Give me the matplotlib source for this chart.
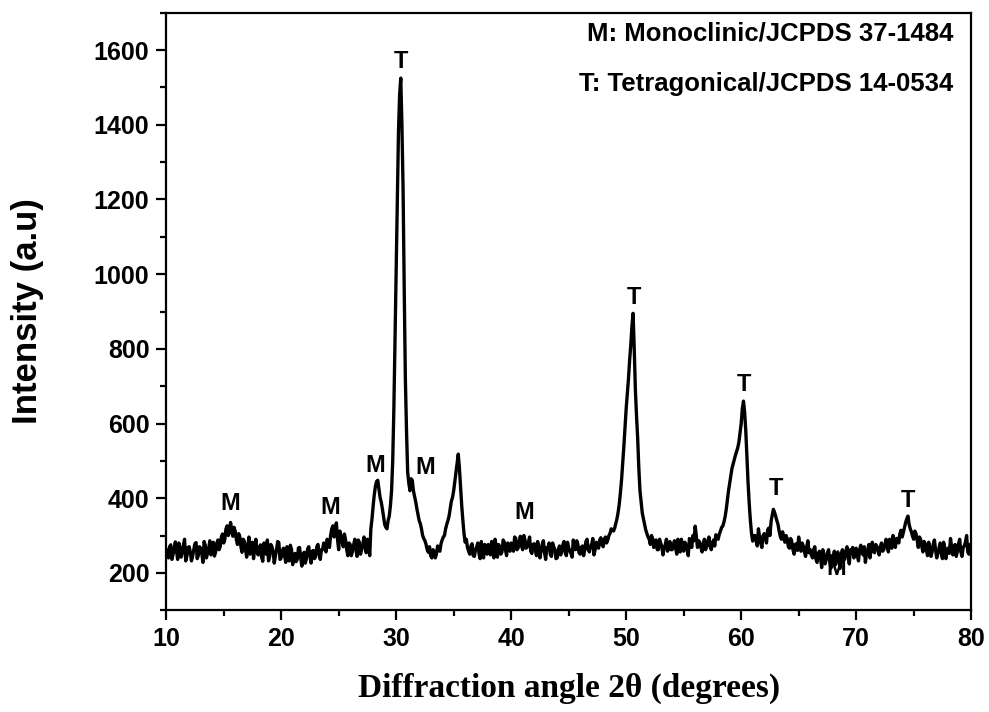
import numpy as np
import matplotlib
matplotlib.use("Agg")
import matplotlib.pyplot as plt

# XRD scan: main pass at 10.0, 10.2, ... 80.0
two_theta = np.linspace(10, 80, 351)
intensity = [
    262, 240, 275, 250, 283, 236, 268, 255, 290, 244,   # 10
    270, 232, 262, 281, 247, 266, 228, 274, 252, 286,   # 12
    260, 245, 279, 262, 296, 280, 318, 300, 335, 298,   # 14
    312, 276, 298, 255, 284, 242, 296, 260, 238, 290,   # 16
    248, 275, 231, 262, 288, 244, 270, 226, 262, 281,   # 18
    240, 266, 228, 258, 274, 222, 252, 236, 268, 218,   # 20
    255, 238, 270, 226, 260, 244, 276, 236, 262, 272,   # 22
    290, 268, 318, 296, 334, 262, 300, 270, 288, 246,   # 24
    276, 258, 290, 244, 282, 262, 296, 254, 274, 318,   # 26
    380, 432, 448, 402, 372, 330, 318, 352, 420, 640,   # 28
    1010, 1380, 1525, 1230, 720, 470, 420, 448, 405, 372,  # 30
    340, 318, 292, 276, 255, 246, 262, 240, 272, 258,   # 32
    288, 300, 330, 352, 392, 420, 468, 518, 430, 340,   # 34
    282, 268, 250, 278, 244, 270, 252, 284, 240, 266,   # 36
    276, 248, 262, 290, 242, 270, 256, 282, 246, 268,   # 38
    280, 258, 292, 266, 298, 262, 288, 270, 296, 252,   # 40
    278, 246, 270, 258, 286, 236, 266, 250, 280, 262,   # 42
    240, 272, 258, 284, 246, 268, 252, 288, 262, 276,   # 44
    250, 272, 262, 290, 256, 276, 248, 282, 266, 294,   # 46
    270, 296, 288, 306, 315, 320, 345, 385, 450, 540,   # 48
    640, 720, 810, 895, 690, 560, 420, 360, 330, 305,   # 50
    290, 300, 268, 288, 262, 280, 248, 276, 258, 284,   # 52
    262, 286, 250, 272, 290, 258, 276, 246, 282, 300,   # 54
    325, 268, 282, 256, 290, 270, 296, 262, 288, 302,   # 56
    290, 312, 325, 350, 395, 440, 480, 505, 525, 550,   # 58
    600, 660, 580, 440, 340, 285, 300, 272, 295, 268,   # 60
    305, 280, 320, 338, 370, 352, 330, 298, 310, 282,   # 62
    292, 266, 284, 250, 278, 296, 258, 272, 244, 286,   # 64
    262, 240, 270, 228, 258, 214, 248, 236, 262, 212,   # 66
    240, 222, 256, 212, 262, 236, 270, 224, 252, 240,   # 68
    266, 232, 274, 248, 228, 262, 240, 282, 254, 270,   # 70
    248, 280, 262, 290, 256, 276, 300, 268, 292, 305,   # 72
    296, 322, 345, 330, 310, 290, 305, 268, 290, 256,   # 74
    278, 246, 270, 256, 288, 240, 266, 252, 282, 238,   # 76
    266, 292, 248, 276, 258, 290, 244, 272, 300, 250,   # 78
    268,
]

# in-between points at 10.1, 10.3, ... 79.9
two_theta_mid = np.linspace(10.1, 79.9, 350)
intensity_mid = [
    248, 270, 236, 266, 258, 280, 242, 274, 232, 268,   # 10.1
    256, 244, 278, 238, 270, 252, 284, 240, 266, 248,   # 12.1
    282, 256, 288, 270, 304, 290, 326, 308, 316, 322,   # 14.1
    290, 305, 270, 290, 262, 272, 250, 282, 268, 256,   # 16.1
    266, 242, 280, 250, 232, 276, 258, 246, 284, 236,   # 18.1
    258, 246, 270, 232, 262, 244, 230, 266, 240, 250,   # 20.1
    226, 264, 246, 258, 238, 270, 250, 262, 280, 256,   # 22.1
    274, 300, 326, 310, 290, 312, 284, 304, 262, 280,   # 24.1
    246, 274, 262, 288, 250, 276, 268, 290, 246, 345,   # 26.1
    410, 445, 425, 390, 350, 322, 340, 380, 500, 820,   # 28.1
    1200, 1480, 1400, 960, 580, 440, 452, 420, 390, 356,  # 30.1
    332, 300, 286, 262, 270, 240, 258, 250, 262, 278,   # 32.1
    296, 318, 340, 372, 402, 445, 495, 480, 380, 305,   # 34.1
    290, 258, 272, 246, 262, 280, 238, 262, 276, 250,   # 36.1
    262, 284, 240, 268, 276, 250, 288, 262, 280, 258,   # 38.1
    270, 296, 262, 284, 272, 300, 266, 282, 258, 276,   # 40.1
    262, 284, 240, 276, 254, 268, 280, 244, 270, 238,   # 42.1
    262, 248, 276, 254, 282, 258, 242, 270, 286, 254,   # 44.1
    268, 246, 284, 262, 270, 292, 262, 270, 288, 276,   # 46.1
    290, 280, 300, 318, 312, 332, 362, 415, 495, 590,   # 48.1
    680, 770, 860, 800, 620, 480, 390, 345, 315, 296,   # 50.1
    276, 292, 282, 262, 290, 270, 266, 290, 272, 262,   # 52.1
    276, 266, 290, 256, 270, 282, 262, 292, 268, 286,   # 54.1
    298, 286, 268, 276, 262, 286, 272, 280, 272, 296,   # 56.1
    304, 322, 336, 370, 420, 460, 492, 515, 535, 575,   # 58.1
    640, 630, 510, 385, 305, 300, 285, 318, 280, 300,   # 60.1
    296, 315, 300, 355, 362, 340, 312, 290, 296, 300,   # 62.1
    270, 292, 262, 276, 260, 270, 280, 256, 270, 254,   # 64.1
    248, 262, 236, 250, 240, 262, 224, 254, 230, 246,   # 66.1
    258, 246, 232, 250, 244, 258, 246, 262, 268, 250,   # 68.1
    246, 262, 256, 270, 252, 276, 264, 258, 276, 262,   # 70.1
    270, 258, 276, 270, 290, 266, 282, 292, 280, 314,   # 72.1
    308, 335, 352, 318, 298, 312, 288, 296, 272, 284,   # 74.1
    262, 282, 244, 276, 262, 252, 280, 238, 268, 260,   # 76.1
    252, 270, 262, 244, 278, 256, 268, 282, 256, 276,   # 78.1
]

# phase labels above peaks
peak_labels = ["M", "M", "M", "M", "M", "T", "T", "T", "T", "T", "M"]
label_x = [15.6, 24.3, 28.2, 32.5, 41.1, 30.4, 50.7, 60.2, 63.0, 74.5, 68.3]
label_y = [385, 375, 488, 482, 362, 1570, 938, 705, 425, 395, 212]

legend_lines = ["M: Monoclinic/JCPDS 37-1484", "T: Tetragonical/JCPDS 14-0534"]

# merge the two passes into one scan
x = np.empty(len(two_theta) + len(two_theta_mid))
y = np.empty_like(x)
x[0::2] = two_theta
x[1::2] = two_theta_mid
y[0::2] = intensity
y[1::2] = intensity_mid

plt.rcParams['font.family'] = ['Liberation Sans', 'DejaVu Sans']
plt.rcParams['font.weight'] = 'bold'

fig = plt.figure(figsize=(9.89, 7.12), dpi=100)
ax = fig.add_axes([0.168, 0.143, 0.814, 0.839])

ax.plot(x, y, color='black', lw=2.4, zorder=3)

for lab, px, py in zip(peak_labels, label_x, label_y):
    ax.text(px, py, lab, ha='center', va='center', fontsize=17,
            fontweight='bold', zorder=2)

ax.text(0.978, 0.966, legend_lines[0], transform=ax.transAxes, ha='right',
        va='center', fontsize=18.5, fontweight='bold')
ax.text(0.978, 0.881, legend_lines[1], transform=ax.transAxes, ha='right',
        va='center', fontsize=18.5, fontweight='bold')

ax.set_xlim(10, 80)
ax.set_ylim(100, 1700)
ax.set_xticks(np.arange(10, 81, 10))
ax.set_xticks(np.arange(15, 80, 10), minor=True)
ax.set_yticks(np.arange(200, 1601, 200))
ax.set_yticks(np.arange(100, 1701, 200), minor=True)

for s in ax.spines.values():
    s.set_linewidth(1.6)
ax.tick_params(which='major', direction='out', length=7, width=1.6,
               labelsize=18, pad=5)
ax.tick_params(which='minor', direction='out', length=4, width=1.6)
for t in ax.get_xticklabels() + ax.get_yticklabels():
    t.set_fontweight('bold')

ax.set_ylabel("Intensity (a.u)", fontsize=25, fontweight='bold', labelpad=36)
ax.set_xlabel("Diffraction angle 2\u03b8 (degrees)", fontsize=24,
              fontweight='bold', family=['Liberation Serif', 'DejaVu Serif'],
              labelpad=16)

fig.savefig("out.png", dpi=100)
